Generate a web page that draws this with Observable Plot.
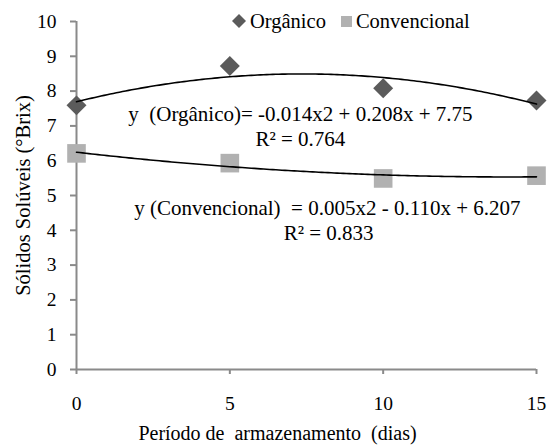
<!DOCTYPE html>
<html>
<head>
<meta charset="utf-8">
<script src="https://cdn.jsdelivr.net/npm/d3@7"></script>
<script src="https://cdn.jsdelivr.net/npm/@observablehq/plot@0.6"></script>
<style>
  html, body { margin: 0; padding: 0; background: #fff; }
  #wrap { position: relative; width: 547px; height: 448px; font-family: "Liberation Serif", serif; }
  #wrap svg text { white-space: pre; }
  #legend { position: absolute; left: 232px; top: 9px; height: 24px; display: flex; align-items: center; font-size: 20.5px; color: #000; font-family: "Liberation Serif", serif; }
  #legend .item { display: flex; align-items: center; margin-right: 15px; }
  #legend svg { margin-right: 4px; }
</style>
</head>
<body>
<div id="wrap"></div>
<script>
// ---- data ----
const days = [0, 5, 10, 15];
const organico = [7.59, 8.72, 8.08, 7.73];
const convencional = [6.21, 5.93, 5.49, 5.57];
const seriesNames = ["Orgânico", "Convencional"];
const seriesColors = ["#5b5b5b", "#b1b1b1"];
const xTicks = [0, 5, 10, 15];
const yTicks = [0, 1, 2, 3, 4, 5, 6, 7, 8, 9, 10];
const xLabel = "Período de  armazenamento  (dias)";
const yLabel = "Sólidos Solúveis (°Brix)";
const eqTexts = [
  "y  (Orgânico)= -0.014x2 + 0.208x + 7.75",
  "R² = 0.764",
  "y (Convencional)  = 0.005x2 - 0.110x + 6.207",
  "R² = 0.833"
];
const eqX = [7.3, 7.3, 8.18, 8.22];
const eqY = [7.33, 6.62, 4.63, 3.91];

// ---- build tables ----
const orgData = days.map((d, i) => ({day: d, value: organico[i]}));
const convData = days.map((d, i) => ({day: d, value: convencional[i]}));
const annotations = eqTexts.map((t, i) => ({text: t, x: eqX[i], y: eqY[i]}));

// least-squares quadratic trend line (like the spreadsheet's polynomial trendline)
function quadFit(xs, ys) {
  let s = [0, 0, 0, 0, 0], t = [0, 0, 0];
  xs.forEach((x, i) => {
    for (let k = 0; k < 5; k++) s[k] += Math.pow(x, k);
    for (let k = 0; k < 3; k++) t[k] += ys[i] * Math.pow(x, k);
  });
  const A = [[s[0], s[1], s[2], t[0]], [s[1], s[2], s[3], t[1]], [s[2], s[3], s[4], t[2]]];
  for (let c = 0; c < 3; c++) {
    for (let r = c + 1; r < 3; r++) {
      const f = A[r][c] / A[c][c];
      for (let k = c; k < 4; k++) A[r][k] -= f * A[c][k];
    }
  }
  const b = [0, 0, 0];
  for (let r = 2; r >= 0; r--) {
    let v = A[r][3];
    for (let k = r + 1; k < 3; k++) v -= A[r][k] * b[k];
    b[r] = v / A[r][r];
  }
  return x => b[0] + b[1] * x + b[2] * x * x;
}
const fOrg = quadFit(days, organico);
const fConv = quadFit(days, convencional);
const xs = d3.range(0, 15.001, 0.1);
const orgTrend = xs.map(x => ({day: x, value: fOrg(x)}));
const convTrend = xs.map(x => ({day: x, value: fConv(x)}));

const font = "Liberation Serif";
const axisGray = "#8a8a8a";

const chart = Plot.plot({
  width: 547,
  height: 448,
  marginTop: 21,
  marginBottom: 79,
  marginLeft: 76,
  marginRight: 11,
  x: {domain: [0, 15]},
  y: {domain: [0, 10]},
  style: {fontFamily: font, fontSize: "19px", color: "#000", background: "#fff"},
  marks: [
    Plot.axisY({ticks: yTicks, tickSize: 6, tickPadding: 14, stroke: axisGray, strokeWidth: 2, fontSize: 19.5, fontFamily: font, label: null, tickFormat: d => String(d)}),
    Plot.axisX({ticks: xTicks, tickSize: 5, tickPadding: 22, stroke: axisGray, strokeWidth: 2, fontSize: 19.5, fontFamily: font, label: null, tickFormat: d => String(d)}),
    Plot.ruleX([0], {stroke: axisGray, strokeWidth: 2}),
    Plot.ruleY([0], {stroke: axisGray, strokeWidth: 2}),
    Plot.dot(orgData, {x: "day", y: "value", symbol: "diamond2", r: 9, fill: seriesColors[0], stroke: "none"}),
    Plot.dot(convData, {x: "day", y: "value", symbol: "square", r: 10.5, fill: seriesColors[1], stroke: "none"}),
    Plot.line(orgTrend, {x: "day", y: "value", stroke: "#000", strokeWidth: 1.6}),
    Plot.line(convTrend, {x: "day", y: "value", stroke: "#000", strokeWidth: 1.6}),
    Plot.text(annotations, {x: "x", y: "y", text: "text", fontSize: 21, fontFamily: font, fill: "#000"}),
    Plot.text([xLabel], {frameAnchor: "bottom", dy: 70, dx: -29, textAnchor: "middle", text: d => d, fontSize: 20, fontFamily: font, fill: "#000"}),
    Plot.text([yLabel], {frameAnchor: "left", dx: -53, textAnchor: "middle", rotate: -90, text: d => d, fontSize: 20.5, fontFamily: font, fill: "#000"})
  ]
});
const wrap = document.getElementById("wrap");
wrap.appendChild(chart);

// legend
const legend = document.createElement("div");
legend.id = "legend";
const glyphs = [
  '<svg width="14" height="14" viewBox="0 0 14 14"><path d="M7 0 L14 7 L7 14 L0 7 Z" fill="' + seriesColors[0] + '"/></svg>',
  '<svg width="11" height="11" viewBox="0 0 11 11"><rect width="11" height="11" fill="' + seriesColors[1] + '"/></svg>'
];
seriesNames.forEach((name, i) => {
  const item = document.createElement("div");
  item.className = "item";
  item.innerHTML = glyphs[i] + "<span>" + name + "</span>";
  legend.appendChild(item);
});
wrap.appendChild(legend);
</script>
</body>
</html>
